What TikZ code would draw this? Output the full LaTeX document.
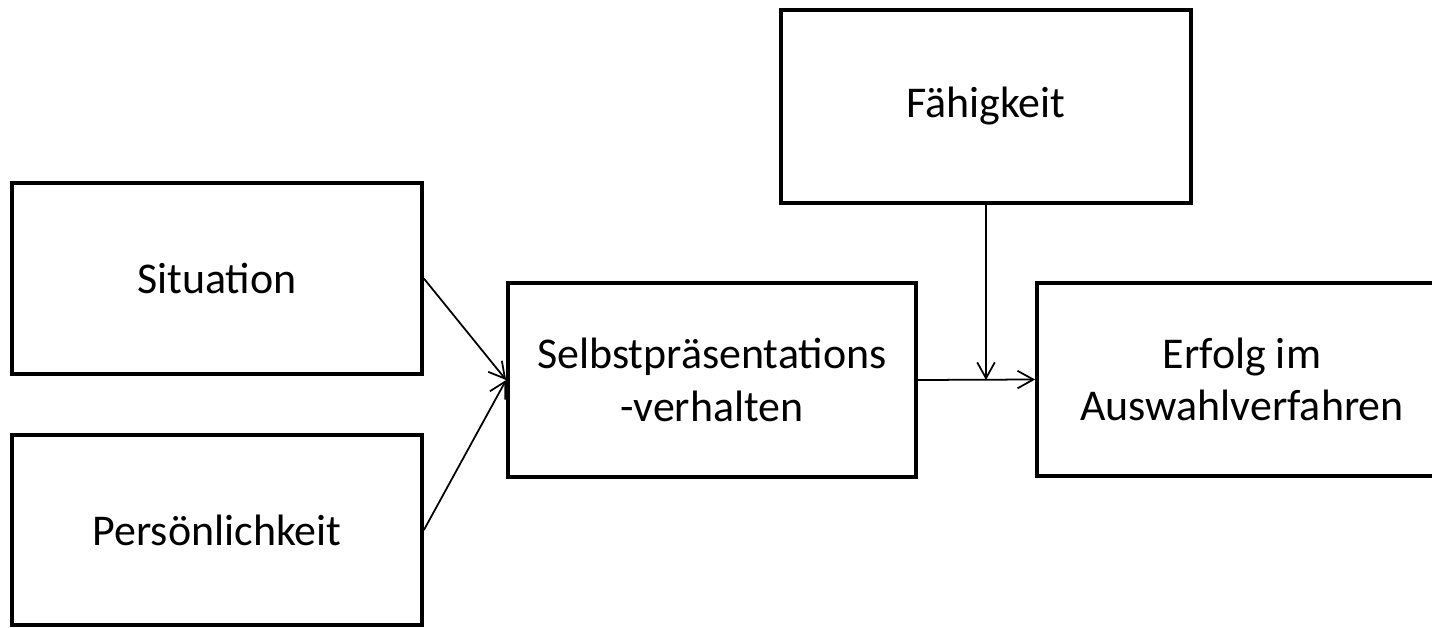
\documentclass[tikz,border=0pt]{standalone}
\usepackage{fontspec}
\setmainfont{Carlito}
\usetikzlibrary{arrows.meta}
\begin{document}
\begin{tikzpicture}[>={Straight Barb[length=9pt,width=10pt]},x=0.02cm,y=-0.02cm,line join=miter]
	\tikzset{box/.style={draw,line width=2.2pt,minimum width=8.2cm,inner sep=0pt,align=center,font=\fontsize{25pt}{30pt}\selectfont}}
	\tikzset{pfeil/.style={->,line width=1pt}}
	\clip (0,0) rectangle (1432,628);
	
	% --- Kästen ---
	\node[box,minimum height=3.82cm] (sit) at (217,278.5) {Situation};
	\node[box,minimum height=3.8cm] (pers) at (217,530) {Persönlichkeit};
	\node[box,minimum width=8.16cm,minimum height=3.88cm] (selbst) at (712,380) {Selbstpräsentations\\-verhalten};
	\node[box,minimum height=3.86cm] (faeh) at (986,106.5) {Fähigkeit};
	\node[box,minimum height=3.86cm] (erfolg) at (1242,379.5) {Erfolg im\\Auswahlverfahren};
	
	% --- Pfeile ---
	\coordinate (treff) at (faeh.south |- selbst.east);
	\draw[pfeil] (sit.east)--(selbst.west);
	\draw[pfeil] (pers.east)--(selbst.west);
	\draw[pfeil] (selbst.east)--(erfolg.west);
	\draw[pfeil] (faeh.south)--(treff);
\end{tikzpicture}
\end{document}
